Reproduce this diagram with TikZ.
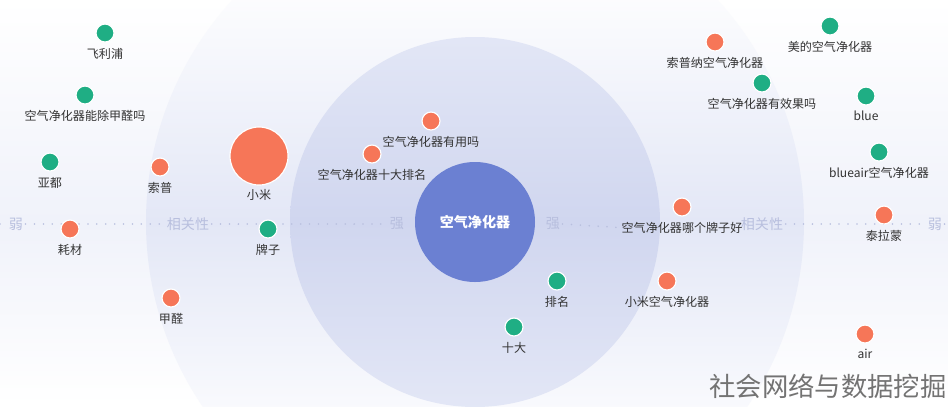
\documentclass[tikz,border=0pt]{standalone}
\usepackage{fontspec}
\setmainfont{Noto Sans CJK SC}
\usetikzlibrary{positioning}
\definecolor{kwgreen}{RGB}{31,174,132}
\definecolor{kworange}{RGB}{246,118,88}
\definecolor{kwblue}{RGB}{107,128,210}
\definecolor{axisgray}{RGB}{184,191,222}
\definecolor{bgpale}{RGB}{240,242,250}
\definecolor{bandouter}{RGB}{227,231,246}
\definecolor{bandinner}{RGB}{208,214,239}

\begin{document}
\begin{tikzpicture}[x=0.3mm, y=-0.3mm, every node/.style={align=center},
  kw/.style={circle, draw=white, line width=1pt, minimum size=5.4mm, inner sep=0pt},
  kwtext/.style={font=\fontsize{10.3}{12}\selectfont, text=black!80, inner sep=1pt},
  axislabel/.style={font=\fontsize{12}{14}\selectfont, text=axisgray, inner sep=2pt},
  axisdots/.style={axisgray, line width=1.5pt, line cap=round, dash pattern=on 0pt off 7.6pt}]
\useasboundingbox (0,0) rectangle (948,406);
\begin{scope}
\clip (0,0) rectangle (948,406);
\shade[top color=white, bottom color=bgpale] (0,0) rectangle (948,222);
\shade[top color=bgpale, bottom color=white] (0,222) rectangle (948,406);
\begin{scope}
\clip (475,222) circle (329);
\shade[top color=white, bottom color=bandouter] (140,-30) rectangle (810,222);
\shade[top color=bandouter, bottom color=white] (140,222) rectangle (810,460);
\end{scope}
\begin{scope}
\clip (475,222) circle (185);
\shade[top color=bandouter, bottom color=bandinner] (280,30) rectangle (670,222);
\shade[top color=bandinner, bottom color=bandouter] (280,222) rectangle (670,410);
\end{scope}
\end{scope}

% relevance axis
\coordinate (axisL) at (0,224);
\coordinate (axisR) at (948,224);
\node[axislabel] (weakL) at (16,224) {弱};
\node[axislabel] (relL) at (188,224) {相关性};
\node[axislabel] (strongL) at (397,224) {强};
\node[axislabel] (strongR) at (553,224) {强};
\node[axislabel] (relR) at (762,224) {相关性};
\node[axislabel] (weakR) at (935,224) {弱};
\draw[axisdots] (axisL) -- (weakL.west);
\draw[axisdots] (weakL.east) -- (relL.west);
\draw[axisdots] (relL.east) -- (strongL.west);
\draw[axisdots] (relR.east) -- (weakR.west);
\draw[axisdots] (weakR.east) -- (axisR);

\node[circle, fill=kwblue, minimum size=36mm, inner sep=0pt, text=white, font=\fontsize{12}{14}\selectfont\bfseries] (core) at (475,222) {空气净化器};

\node[kw, fill=kwgreen, label={[kwtext, label distance=1.2mm]below:飞利浦}] (feilipu) at (105,33) {};
\node[kw, fill=kwgreen, label={[kwtext, label distance=1.2mm]below:空气净化器能除甲醛吗}] (chujiaquan) at (85,95) {};
\node[kw, fill=kwgreen, label={[kwtext, label distance=1.2mm]below:亚都}] (yadu) at (50,162) {};
\node[kw, fill=kworange, label={[kwtext, label distance=1.2mm]below:索普}] (suopu) at (160,167) {};
\node[kw, fill=kworange, minimum size=17.4mm, label={[kwtext, label distance=0.6mm]below:小米}] (xiaomi) at (259,156) {};
\node[kw, fill=kworange, label={[kwtext, label distance=1.2mm]below:耗材}] (haocai) at (70,229) {};
\node[kw, fill=kwgreen, label={[kwtext, label distance=1.2mm]below:牌子}] (paizi) at (268,229) {};
\node[kw, fill=kworange, label={[kwtext, label distance=1.2mm]below:甲醛}] (jiaquan) at (171,298) {};
\node[kw, fill=kworange, label={[kwtext, label distance=1.2mm]below:空气净化器有用吗}] (youyong) at (431,121) {};
\node[kw, fill=kworange, label={[kwtext, label distance=1.2mm]below:空气净化器十大排名}] (shidapm) at (372,154) {};
\node[kw, fill=kwgreen, label={[kwtext, label distance=1.2mm]below:排名}] (paiming) at (557,281) {};
\node[kw, fill=kwgreen, label={[kwtext, label distance=1.2mm]below:十大}] (shida) at (514,327) {};
\node[kw, fill=kworange, label={[kwtext, label distance=1.2mm, name=bestbrandtxt]below:空气净化器哪个牌子好}] (bestbrand) at (682,207) {};
\node[kw, fill=kworange, label={[kwtext, label distance=1.2mm]below:小米空气净化器}] (xiaomijhq) at (667,281) {};
\node[kw, fill=kworange, label={[kwtext, label distance=1.2mm]below:索普纳空气净化器}] (suopuna) at (715,42) {};
\node[kw, fill=kwgreen, label={[kwtext, label distance=1.2mm]below:美的空气净化器}] (meidi) at (830,26) {};
\node[kw, fill=kwgreen, label={[kwtext, label distance=1.2mm]below:空气净化器有效果吗}] (youxiao) at (762,83) {};
\node[kw, fill=kwgreen, label={[kwtext, label distance=1.2mm]below:blue}] (blue) at (866,96) {};
\node[kw, fill=kwgreen, label={[kwtext, label distance=1.2mm]below:blueair空气净化器}] (blueair) at (879,152) {};
\node[kw, fill=kworange, label={[kwtext, label distance=1.2mm]below:泰拉蒙}] (tailameng) at (884,215) {};
\node[kw, fill=kworange, label={[kwtext, label distance=1.2mm]below:air}] (air) at (865,334) {};

\draw[axisdots] (strongR.east) -- (bestbrandtxt.west);

\node[text=black!55, font=\fontsize{22.5}{24}\selectfont, inner sep=0pt] (watermark) at (828,386) {社会网络与数据挖掘};
\end{tikzpicture}
\end{document}
